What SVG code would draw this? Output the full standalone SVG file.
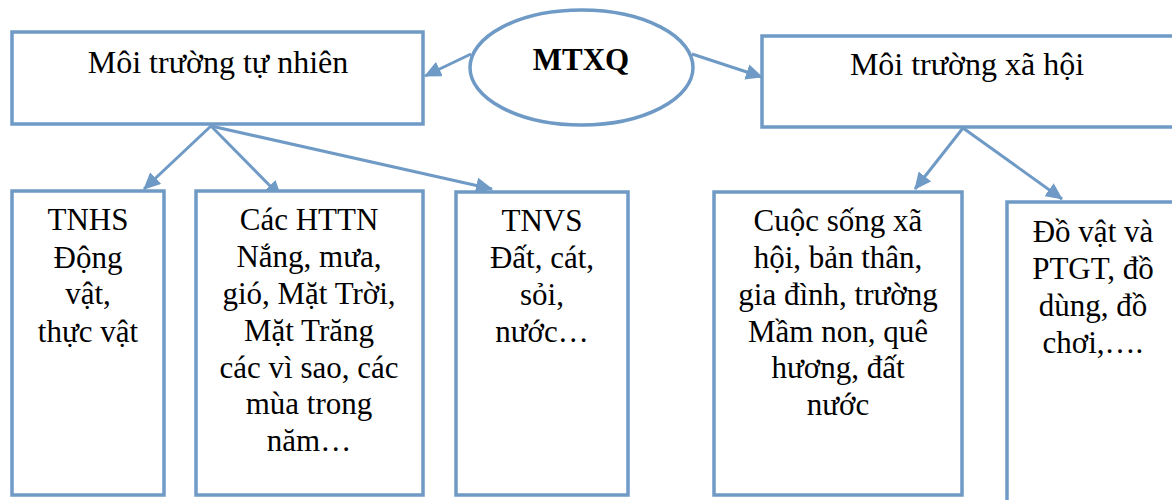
<svg xmlns="http://www.w3.org/2000/svg" width="1172" height="500" viewBox="0 0 1172 500">
<style>
.box{fill:#fff;stroke:#6F9AC6;stroke-width:3.5}
.t{font-family:"Liberation Serif","Times New Roman",serif;font-size:31px;fill:#000;text-anchor:middle}
.h{font-size:32px}
.b{font-weight:bold}
.c{stroke:#6F9AC6;stroke-width:3;fill:none;marker-end:url(#ah)}
</style>
<defs>
<marker id="ah" markerUnits="userSpaceOnUse" markerWidth="20" markerHeight="16" refX="16" refY="8" orient="auto">
<path d="M0,0 L17,8 L0,16 Z" fill="#6F9AC6"/>
</marker>
</defs>
<rect width="1172" height="500" fill="#fff"/>
<g id="connectors">
<line class="c" x1="471" y1="54" x2="425" y2="76"/>
<line class="c" x1="692" y1="54" x2="762" y2="77"/>
<line class="c" x1="211" y1="126" x2="144" y2="189"/>
<line class="c" x1="211" y1="126" x2="281" y2="197"/>
<line class="c" x1="211" y1="126" x2="492" y2="189"/>
<line class="c" x1="963" y1="128" x2="915" y2="189"/>
<line class="c" x1="963" y1="128" x2="1062" y2="199"/>
</g>
<g id="node-tu-nhien">
<rect class="box" x="12" y="32" width="411" height="92"/>
<text class="t h" x="218" y="73">Môi trường tự nhiên</text>
</g>
<g id="node-mtxq">
<ellipse class="box" cx="581.5" cy="67.5" rx="111.5" ry="57.5"/>
<text class="t b" x="581" y="70">MTXQ</text>
</g>
<g id="node-xa-hoi">
<rect class="box" x="762" y="36" width="420" height="91"/>
<text class="t h" x="967" y="75">Môi trường xã hội</text>
</g>
<g id="node-tnhs">
<rect class="box" x="12" y="191" width="152" height="304"/>
<text class="t" x="88" y="230">TNHS</text>
<text class="t" x="88" y="268">Động</text>
<text class="t" x="88" y="304">vật,</text>
<text class="t" x="88" y="342">thực vật</text>
</g>
<g id="node-httn">
<rect class="box" x="196" y="191" width="227" height="304"/>
<text class="t" x="309" y="230">Các HTTN</text>
<text class="t" x="309" y="267">Nắng, mưa,</text>
<text class="t" x="309" y="304">gió, Mặt Trời,</text>
<text class="t" x="309" y="341">Mặt Trăng</text>
<text class="t" x="309" y="378">các vì sao, các</text>
<text class="t" x="309" y="414">mùa trong</text>
<text class="t" x="309" y="451">năm…</text>
</g>
<g id="node-tnvs">
<rect class="box" x="456" y="192" width="172" height="303"/>
<text class="t" x="542" y="231">TNVS</text>
<text class="t" x="542" y="268">Đất, cát,</text>
<text class="t" x="542" y="305">sỏi,</text>
<text class="t" x="542" y="342">nước…</text>
</g>
<g id="node-cuoc-song">
<rect class="box" x="714" y="192" width="248" height="303"/>
<text class="t" x="838" y="231">Cuộc sống xã</text>
<text class="t" x="838" y="268">hội, bản thân,</text>
<text class="t" x="838" y="305">gia đình, trường</text>
<text class="t" x="838" y="342">Mầm non, quê</text>
<text class="t" x="838" y="378">hương, đất</text>
<text class="t" x="838" y="415">nước</text>
</g>
<g id="node-do-vat">
<rect class="box" x="1007" y="202" width="180" height="310"/>
<text class="t" x="1093" y="242">Đồ vật và</text>
<text class="t" x="1093" y="279">PTGT, đồ</text>
<text class="t" x="1093" y="316">dùng, đồ</text>
<text class="t" x="1093" y="353">chơi,….</text>
</g>
</svg>
